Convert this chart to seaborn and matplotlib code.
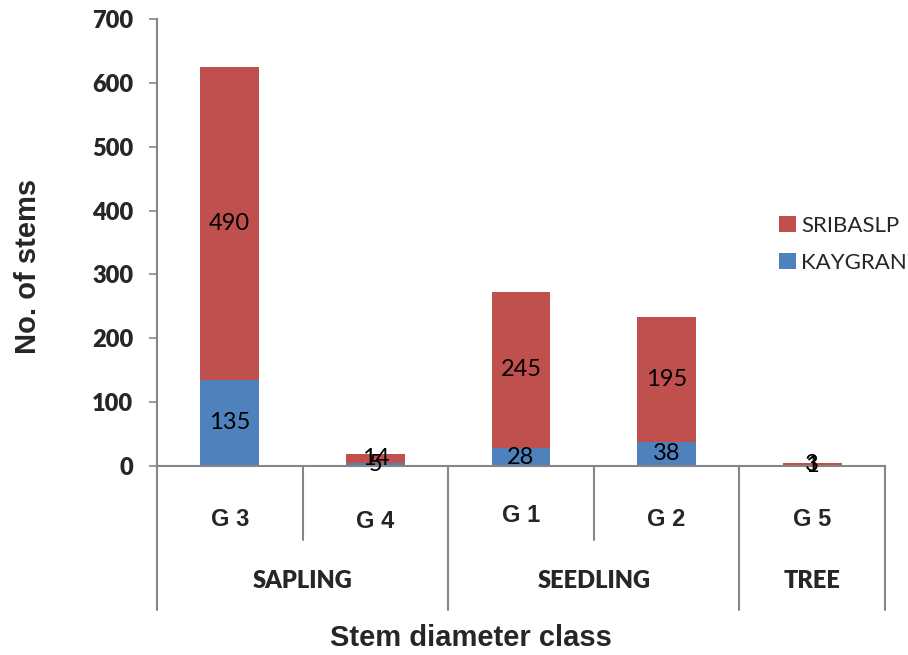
import matplotlib
matplotlib.use("Agg")
import matplotlib.pyplot as plt
import matplotlib.transforms as mtransforms
from matplotlib.lines import Line2D
from matplotlib.patches import Patch
import seaborn as sns
import pandas as pd

categories = ["G 3", "G 4", "G 1", "G 2", "G 5"]
groups = ["SAPLING", "SEEDLING", "TREE"]
group_sizes = [2, 2, 1]
kaygran = [135, 5, 28, 38, 1]
sribaslp = [490, 14, 245, 195, 3]
yticks = [0, 100, 200, 300, 400, 500, 600, 700]

RED = "#C0504D"
BLUE = "#4F81BD"
GRAY = "#868686"

sns.set_theme(style="white")
plt.rcParams["font.family"] = ["Lato", "DejaVu Sans"]

df = pd.DataFrame({"cat": categories, "kay": kaygran, "sri": sribaslp})
df["total"] = df["kay"] + df["sri"]

fig = plt.figure(figsize=(9.08, 6.55), dpi=100)
ax = fig.add_axes([157/908, 1-466/655, (885-157)/908, (466-19)/655])

sns.barplot(data=df, x="cat", y="total", color=RED, saturation=1, width=0.405, ax=ax,
            order=categories, linewidth=0)
sns.barplot(data=df, x="cat", y="kay", color=BLUE, saturation=1, width=0.405, ax=ax,
            order=categories, linewidth=0)

for i in range(len(categories)):
    k = kaygran[i]; s = sribaslp[i]
    ax.text(i, k/2, str(k), ha="center", va="center", fontsize=17, color="black")
    ax.text(i, k + s/2, str(s), ha="center", va="center", fontsize=17, color="black")

ax.set_xlim(-0.5, len(categories)-0.5)
ax.set_ylim(0, 700)
ax.set_yticks(yticks)
ax.set_yticklabels([str(t) for t in yticks], fontsize=17, fontweight="heavy")
ax.tick_params(axis="y", direction="out", length=6, width=1.2, color=GRAY, pad=11, left=True)
ax.set_xticks([])
ax.set_xlabel("")
ax.set_ylabel("")
for sp in ["top", "right"]:
    ax.spines[sp].set_visible(False)
for sp in ["left", "bottom"]:
    ax.spines[sp].set_color(GRAY)
    ax.spines[sp].set_linewidth(1.5)

trans = mtransforms.blended_transform_factory(ax.transData, fig.transFigure)
y_axis = 1 - 466/655
y_short = 1 - 540/655
y_long = 1 - 610/655

group_edges = [-0.5]
for g in group_sizes:
    group_edges.append(group_edges[-1] + g)
for b in [i - 0.5 for i in range(len(categories)+1)]:
    ylow = y_long if b in group_edges else y_short
    ax.add_line(Line2D([b, b], [y_axis, ylow], transform=trans, color=GRAY, lw=1.5, clip_on=False))

cat_y = [1-519/655, 1-521/655, 1-515/655, 1-519/655, 1-519/655]
for i, c in enumerate(categories):
    ax.text(i, cat_y[i], c, transform=trans, ha="center", va="center", fontsize=17,
            fontweight="bold", family=["Liberation Sans", "DejaVu Sans"])

for gi, g in enumerate(groups):
    cx = (group_edges[gi] + group_edges[gi+1]) / 2
    ax.text(cx, 1-581/655, g, transform=trans, ha="center", va="center", fontsize=17, fontweight="heavy")

fig.text(28/908, 1-266/655, "No. of stems", rotation=90, ha="center", va="center",
         fontsize=21, fontweight="bold", family=["Liberation Sans", "DejaVu Sans"])
fig.text(471/908, 1-638/655, "Stem diameter class", ha="center", va="center",
         fontsize=21, fontweight="bold", family=["Liberation Sans", "DejaVu Sans"])

handles = [Patch(facecolor=RED, edgecolor="none", label="SRIBASLP"),
           Patch(facecolor=BLUE, edgecolor="none", label="KAYGRAN")]
fig.legend(handles=handles, loc="upper left", bbox_to_anchor=(779/908, 1-216/655), frameon=False,
           fontsize=16, handlelength=0.75, handleheight=0.75, handletextpad=0.25, labelspacing=0.75,
           borderpad=0, borderaxespad=0)

fig.savefig("out.png", dpi=100)
